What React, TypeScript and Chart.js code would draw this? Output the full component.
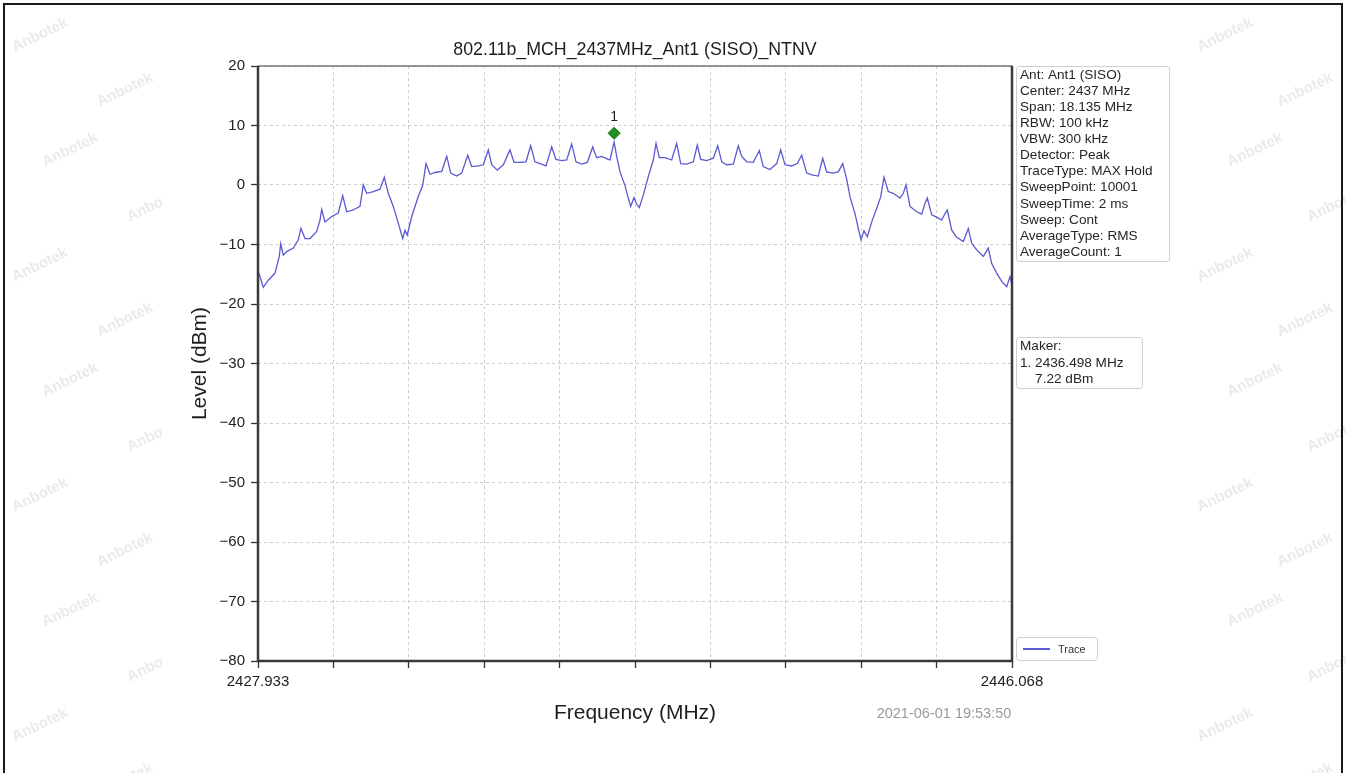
import React, { useEffect, useRef } from "react";
import { Chart, registerables } from "chart.js";

Chart.register(...registerables);

// ---- Data ----
const freqMHz: number[] = [
  2427.933, 2427.964, 2428.06, 2428.181, 2428.342, 2428.445, 2428.479, 2428.542, 2428.623, 2428.782,
  2428.902, 2428.967, 2429.063, 2429.184, 2429.345, 2429.424, 2429.465, 2429.544, 2429.706, 2429.864,
  2429.97, 2430.066, 2430.225, 2430.386, 2430.466, 2430.547, 2430.706, 2430.867, 2430.971, 2431.067,
  2431.187, 2431.307, 2431.413, 2431.469, 2431.524, 2431.63, 2431.789, 2431.894, 2431.974, 2432.07,
  2432.19, 2432.351, 2432.472, 2432.568, 2432.712, 2432.832, 2432.977, 2433.073, 2433.232, 2433.352,
  2433.472, 2433.554, 2433.689, 2433.833, 2433.994, 2434.09, 2434.235, 2434.379, 2434.492, 2434.595,
  2434.716, 2434.86, 2434.997, 2435.1, 2435.237, 2435.358, 2435.478, 2435.581, 2435.719, 2435.853,
  2435.983, 2436.079, 2436.2, 2436.358, 2436.399, 2436.498, 2436.56, 2436.64, 2436.76, 2436.839,
  2436.897, 2436.976, 2437.041, 2437.104, 2437.2, 2437.32, 2437.441, 2437.506, 2437.585, 2437.722,
  2437.883, 2438.003, 2438.1, 2438.244, 2438.403, 2438.499, 2438.581, 2438.725, 2438.884, 2438.99,
  2439.086, 2439.206, 2439.365, 2439.485, 2439.567, 2439.687, 2439.846, 2439.99, 2440.086, 2440.247,
  2440.409, 2440.505, 2440.608, 2440.769, 2440.904, 2441.01, 2441.13, 2441.25, 2441.409, 2441.515,
  2441.611, 2441.756, 2441.89, 2441.996, 2442.092, 2442.172, 2442.292, 2442.371, 2442.436, 2442.508,
  2442.588, 2442.694, 2442.814, 2442.91, 2442.989, 2443.093, 2443.213, 2443.374, 2443.454, 2443.518,
  2443.615, 2443.776, 2443.896, 2443.975, 2444.031, 2444.137, 2444.257, 2444.377, 2444.457, 2444.512,
  2444.618, 2444.738, 2444.897, 2445.017, 2445.099, 2445.219, 2445.378, 2445.498, 2445.58, 2445.7,
  2445.82, 2445.941, 2446.02, 2446.068,
];

const levelDbm: number[] = [
  -15.4, -15.0, -17.2, -16.0, -14.8, -12.0, -9.9, -11.8, -11.2, -10.6,
  -9.2, -7.3, -9.0, -9.0, -7.8, -5.9, -4.1, -6.2, -5.3, -4.7,
  -1.8, -4.5, -4.2, -3.6, 0.0, -1.4, -1.1, -0.7, 1.3, -1.4,
  -3.6, -6.4, -9.0, -7.6, -8.4, -5.3, -1.9, -0.1, 3.6, 1.8,
  2.1, 2.3, 4.8, 2.0, 1.5, 2.0, 5.0, 3.1, 3.2, 3.4,
  5.9, 3.4, 2.5, 3.4, 5.9, 3.8, 3.8, 3.9, 6.6, 3.9,
  3.6, 3.2, 6.4, 4.3, 4.1, 4.2, 6.9, 3.9, 3.5, 3.8,
  6.4, 4.6, 4.8, 4.3, 4.2, 7.2, 4.8, 2.2, -0.1, -2.2,
  -3.6, -2.1, -3.2, -3.8, -1.7, 1.4, 4.2, 7.0, 4.6, 4.6,
  4.2, 7.0, 3.6, 3.5, 3.9, 6.7, 4.3, 4.1, 4.5, 6.6,
  3.9, 3.4, 3.5, 6.6, 4.8, 3.9, 3.8, 5.8, 3.1, 2.6,
  3.6, 5.9, 3.4, 3.2, 3.6, 5.0, 2.0, 1.7, 1.5, 4.5,
  2.2, 2.0, 2.2, 3.6, 1.0, -2.0, -4.8, -7.3, -9.2, -7.7,
  -8.7, -6.2, -3.9, -2.0, 1.3, -1.1, -1.4, -2.2, -1.4, 0.0,
  -3.6, -4.5, -4.9, -3.1, -2.2, -5.0, -5.4, -5.9, -4.8, -4.2,
  -7.6, -8.8, -9.5, -7.3, -9.8, -10.9, -12.0, -10.6, -13.2, -14.8,
  -16.2, -17.1, -15.4, -16.8,
];

const xStart = 2427.933;
const xEnd = 2446.068;
const xGridDivisions = 10;
const xEdgeLabels = ["2427.933", "2446.068"];
const yMin = -80;
const yMax = 20;
const yTickLabels: Record<string, string> = {
  "20": "20", "10": "10", "0": "0", "-10": "\u221210", "-20": "\u221220", "-30": "\u221230",
  "-40": "\u221240", "-50": "\u221250", "-60": "\u221260", "-70": "\u221270", "-80": "\u221280",
};

const markerFreq = 2436.498;
const markerLevelDrawn = 8.7;
const markerName = "1";

const titleText = "802.11b_MCH_2437MHz_Ant1 (SISO)_NTNV";
const xTitle = "Frequency (MHz)";
const yTitle = "Level (dBm)";
const timestamp = "2021-06-01 19:53:50";
const seriesName = "Trace";
const infoLines = [
  "Ant: Ant1 (SISO)",
  "Center: 2437 MHz",
  "Span: 18.135 MHz",
  "RBW: 100 kHz",
  "VBW: 300 kHz",
  "Detector: Peak",
  "TraceType: MAX Hold",
  "SweepPoint: 10001",
  "SweepTime: 2 ms",
  "Sweep: Cont",
  "AverageType: RMS",
  "AverageCount: 1",
];
const markerLines = ["Maker:", "1. 2436.498 MHz", "    7.22 dBm"];
const watermark = "Anbotek";

const FONT = "'Liberation Sans', Arial, sans-serif";
const TRACE_COLOR = "#5a5ad2";

function roundRect(ctx: CanvasRenderingContext2D, x: number, y: number, w: number, h: number, r: number) {
  ctx.beginPath();
  ctx.moveTo(x + r, y);
  ctx.lineTo(x + w - r, y);
  ctx.arcTo(x + w, y, x + w, y + r, r);
  ctx.lineTo(x + w, y + h - r);
  ctx.arcTo(x + w, y + h, x + w - r, y + h, r);
  ctx.lineTo(x + r, y + h);
  ctx.arcTo(x, y + h, x, y + h - r, r);
  ctx.lineTo(x, y + r);
  ctx.arcTo(x, y, x + r, y, r);
  ctx.closePath();
}

const decorPlugin = {
  id: "decor",
  beforeDraw(chart: any) {
    const ctx: CanvasRenderingContext2D = chart.ctx;
    ctx.save();
    ctx.fillStyle = "#ffffff";
    ctx.fillRect(0, 0, chart.width, chart.height);
    // faint watermark in the side margins
    ctx.beginPath();
    ctx.rect(0, 0, 162, chart.height);
    ctx.rect(1180, 0, chart.width - 1180, chart.height);
    ctx.clip();
    ctx.fillStyle = "rgba(160,160,160,0.22)";
    ctx.font = `bold 15px ${FONT}`;
    ctx.textAlign = "center";
    ctx.textBaseline = "middle";
    const cols = [40, 125, 1225, 1305];
    for (let c = 0; c < cols.length; c++) {
      for (let r = 0; r < 8; r++) {
        const cx = cols[c] + (r % 2) * 30;
        const cy = 35 + r * 115 + (c % 2) * 55;
        ctx.save();
        ctx.translate(cx, cy);
        ctx.rotate(-Math.PI / 7);
        ctx.fillText(watermark, 0, 0);
        ctx.restore();
      }
    }
    ctx.restore();
  },
  afterDraw(chart: any) {
    const ctx: CanvasRenderingContext2D = chart.ctx;
    const a = chart.chartArea;
    const xs = chart.scales.x;
    const ys = chart.scales.y;
    ctx.save();

    // outer frame of the picture
    ctx.strokeStyle = "#1a1a1a";
    ctx.lineWidth = 2;
    ctx.strokeRect(4, 4, 1338, 800);

    // plot frame
    ctx.strokeStyle = "#555";
    ctx.lineWidth = 1.2;
    ctx.strokeRect(a.left, a.top, a.right - a.left, a.bottom - a.top);
    ctx.strokeStyle = "#3a3a3a";
    ctx.lineWidth = 2.5;
    ctx.beginPath();
    ctx.moveTo(a.left, a.top);
    ctx.lineTo(a.left, a.bottom);
    ctx.lineTo(a.right, a.bottom);
    ctx.lineTo(a.right, a.top);
    ctx.stroke();

    // title
    ctx.fillStyle = "#1e1e1e";
    ctx.textAlign = "center";
    ctx.textBaseline = "middle";
    ctx.font = `17.8px ${FONT}`;
    ctx.fillText(titleText, (a.left + a.right) / 2, 50);

    // axis titles
    ctx.font = `21px ${FONT}`;
    ctx.fillText(xTitle, (a.left + a.right) / 2, 713);
    ctx.save();
    ctx.translate(200, (a.top + a.bottom) / 2);
    ctx.rotate(-Math.PI / 2);
    ctx.fillText(yTitle, 0, 0);
    ctx.restore();

    // timestamp
    ctx.fillStyle = "#9a9a9a";
    ctx.font = `14.5px ${FONT}`;
    ctx.fillText(timestamp, 944, 714);

    // marker label
    const mx = xs.getPixelForValue(markerFreq);
    const my = ys.getPixelForValue(markerLevelDrawn);
    ctx.fillStyle = "#222";
    ctx.font = `14px ${FONT}`;
    ctx.fillText(markerName, mx, my - 16);

    // info box
    ctx.strokeStyle = "#cfcfcf";
    ctx.lineWidth = 1;
    roundRect(ctx, 1016.5, 66.5, 153, 195, 3);
    ctx.fillStyle = "#fff";
    ctx.fill();
    ctx.stroke();
    ctx.fillStyle = "#262626";
    ctx.textAlign = "left";
    ctx.font = `13.6px ${FONT}`;
    infoLines.forEach((t, i) => ctx.fillText(t, 1020, 75 + i * 16.1));

    // marker box
    roundRect(ctx, 1016.5, 337.5, 126, 51, 3);
    ctx.fillStyle = "#fff";
    ctx.fill();
    ctx.stroke();
    ctx.fillStyle = "#262626";
    markerLines.forEach((t, i) => ctx.fillText(t, 1020, 346.5 + i * 16.5));

    // legend box
    roundRect(ctx, 1016.5, 637.5, 81, 23, 3);
    ctx.fillStyle = "#fff";
    ctx.fill();
    ctx.stroke();
    ctx.strokeStyle = TRACE_COLOR;
    ctx.lineWidth = 2;
    ctx.beginPath();
    ctx.moveTo(1023, 649);
    ctx.lineTo(1050, 649);
    ctx.stroke();
    ctx.fillStyle = "#333";
    ctx.font = `11px ${FONT}`;
    ctx.fillText(seriesName, 1058, 649.5);

    ctx.restore();
  },
};

export default function App() {
  const canvasRef = useRef<HTMLCanvasElement | null>(null);

  useEffect(() => {
    if (!canvasRef.current) return;
    Chart.defaults.font.family = FONT;
    const traceData = freqMHz.map((f, i) => ({ x: f, y: levelDbm[i] }));
    const chart = new Chart(canvasRef.current, {
      type: "line",
      data: {
        datasets: [
          {
            label: seriesName,
            data: traceData,
            borderColor: TRACE_COLOR,
            borderWidth: 1.3,
            pointRadius: 0,
            tension: 0,
            fill: false,
          },
          {
            label: "Marker",
            data: [{ x: markerFreq, y: markerLevelDrawn }],
            showLine: false,
            pointStyle: "rectRot",
            pointRadius: 6,
            backgroundColor: "#1f8f1f",
            borderColor: "#137013",
            borderWidth: 1,
          },
        ],
      },
      options: {
        animation: false,
        responsive: false,
        devicePixelRatio: 1,
        layout: { padding: { left: 0, top: 66, right: 334, bottom: 0 } },
        plugins: {
          legend: { display: false },
          tooltip: { enabled: false },
          title: { display: false },
        },
        scales: {
          x: {
            type: "linear",
            min: xStart,
            max: xEnd,
            afterBuildTicks: (scale: any) => {
              const step = (xEnd - xStart) / xGridDivisions;
              scale.ticks = Array.from({ length: xGridDivisions + 1 }, (_, i) => ({
                value: xStart + i * step,
              }));
            },
            afterFit: (scale: any) => {
              scale.height = 112;
            },
            grid: {
              color: "#cdcdcd",
              lineWidth: 1,
              tickLength: 7,
              tickColor: "#333",
              tickWidth: 1.3,
            },
            border: { display: false, dash: [3, 3] },
            ticks: {
              autoSkip: false,
              maxRotation: 0,
              minRotation: 0,
              padding: 5,
              color: "#222",
              font: { size: 15, family: FONT },
              callback: (_v: any, i: number, ticks: any[]) =>
                i === 0 ? xEdgeLabels[0] : i === ticks.length - 1 ? xEdgeLabels[1] : "",
            },
          },
          y: {
            type: "linear",
            min: yMin,
            max: yMax,
            afterFit: (scale: any) => {
              scale.width = 258;
            },
            grid: {
              color: "#cdcdcd",
              lineWidth: 1,
              tickLength: 7,
              tickColor: "#333",
              tickWidth: 1.3,
            },
            border: { display: false, dash: [3, 3] },
            ticks: {
              stepSize: 10,
              padding: 6,
              color: "#222",
              font: { size: 15, family: FONT },
              callback: (v: any) => yTickLabels[String(v)] ?? String(v),
            },
          },
        },
      },
      plugins: [decorPlugin],
    });
    return () => chart.destroy();
  }, []);

  return (
    <div style={{ position: "absolute", left: 0, top: 0, width: 1346, height: 773, background: "#fff" }}>
      <canvas ref={canvasRef} width={1346} height={773} style={{ width: 1346, height: 773, display: "block" }} />
    </div>
  );
}
